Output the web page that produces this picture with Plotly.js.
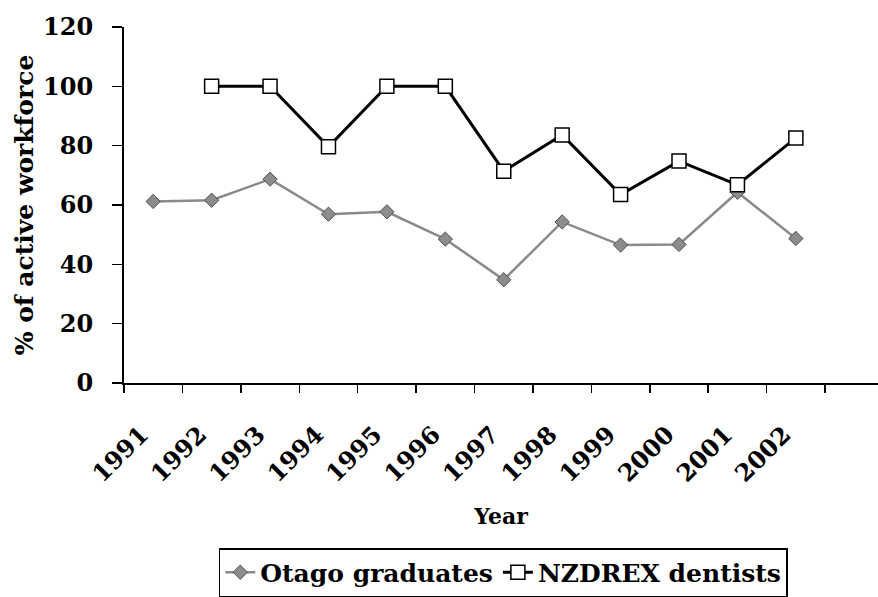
<!DOCTYPE html>
<html>
<head>
<meta charset="utf-8">
<script src="https://cdn.plot.ly/plotly-3.0.1.min.js"></script>
<style>html,body{margin:0;padding:0;background:#fff;}#chart{width:878px;height:597px;}</style>
</head>
<body>
<div id="chart"></div>
<script>
const years = ["1991","1992","1993","1994","1995","1996","1997","1998","1999","2000","2001","2002"];
const otagoGraduates = [61.2, 61.6, 68.7, 56.9, 57.7, 48.5, 34.8, 54.3, 46.5, 46.7, 64.3, 48.7];
const nzdrexDentists = [null, 100, 100, 79.6, 100, 100, 71.4, 83.6, 63.5, 74.8, 66.8, 82.6];
const yTicks = [0, 20, 40, 60, 80, 100, 120];

const serif = "DejaVu Serif";

const traces = [
  {
    type: "scatter", mode: "lines+markers", name: "Otago graduates",
    x: years, y: otagoGraduates,
    line: {color: "#8a8a8a", width: 2.5},
    marker: {symbol: "diamond", size: 11, color: "#8c8c8c", line: {color: "#505050", width: 1}}
  },
  {
    type: "scatter", mode: "lines+markers", name: "NZDREX dentists",
    x: years, y: nzdrexDentists,
    line: {color: "#000000", width: 3},
    marker: {symbol: "square", size: 14, color: "#ffffff", line: {color: "#000000", width: 1.5}}
  }
];

const layout = {
  width: 878, height: 597,
  margin: {l: 124, r: 0, t: 27, b: 211},
  paper_bgcolor: "#ffffff", plot_bgcolor: "#ffffff",
  showlegend: true,
  font: {family: serif, color: "#000000", weight: "bold"},
  xaxis: {
    type: "category",
    range: [-0.5, 12.406],
    tickson: "boundaries",
    ticks: "outside", ticklen: 8, tickwidth: 1.5, tickcolor: "#000",
    ticklabelstandoff: 26,
    ticklabelshift: -12,
    showline: true, linecolor: "#000", linewidth: 2,
    showgrid: false, zeroline: false,
    tickangle: -45,
    tickfont: {family: serif, size: 24, color: "#000", weight: "bold"},
    title: {text: "Year", font: {family: serif, size: 22, color: "#000", weight: "bold"}, standoff: 22}
  },
  yaxis: {
    range: [0, 120],
    tickvals: yTicks, ticktext: yTicks.map(String),
    ticks: "outside", ticklen: 10, tickwidth: 1.5, tickcolor: "#000",
    ticklabelstandoff: 14,
    showline: true, linecolor: "#000", linewidth: 2,
    showgrid: false, zeroline: false,
    tickfont: {family: serif, size: 24, color: "#000", weight: "bold"},
    title: {text: "% of active workforce", font: {family: serif, size: 25, color: "#000", weight: "bold"}, standoff: 2}
  },
  legend: {
    orientation: "h",
    x: 0.503, xanchor: "center",
    y: -0.465, yanchor: "top",
    bordercolor: "#000", borderwidth: 1.5,
    bgcolor: "#ffffff",
    font: {family: serif, size: 25, color: "#000", weight: "bold"},
    itemwidth: 30, tracegroupgap: 0
  }
};

Plotly.newPlot("chart", traces, layout, {displayModeBar: false, staticPlot: true});
</script>
</body>
</html>
